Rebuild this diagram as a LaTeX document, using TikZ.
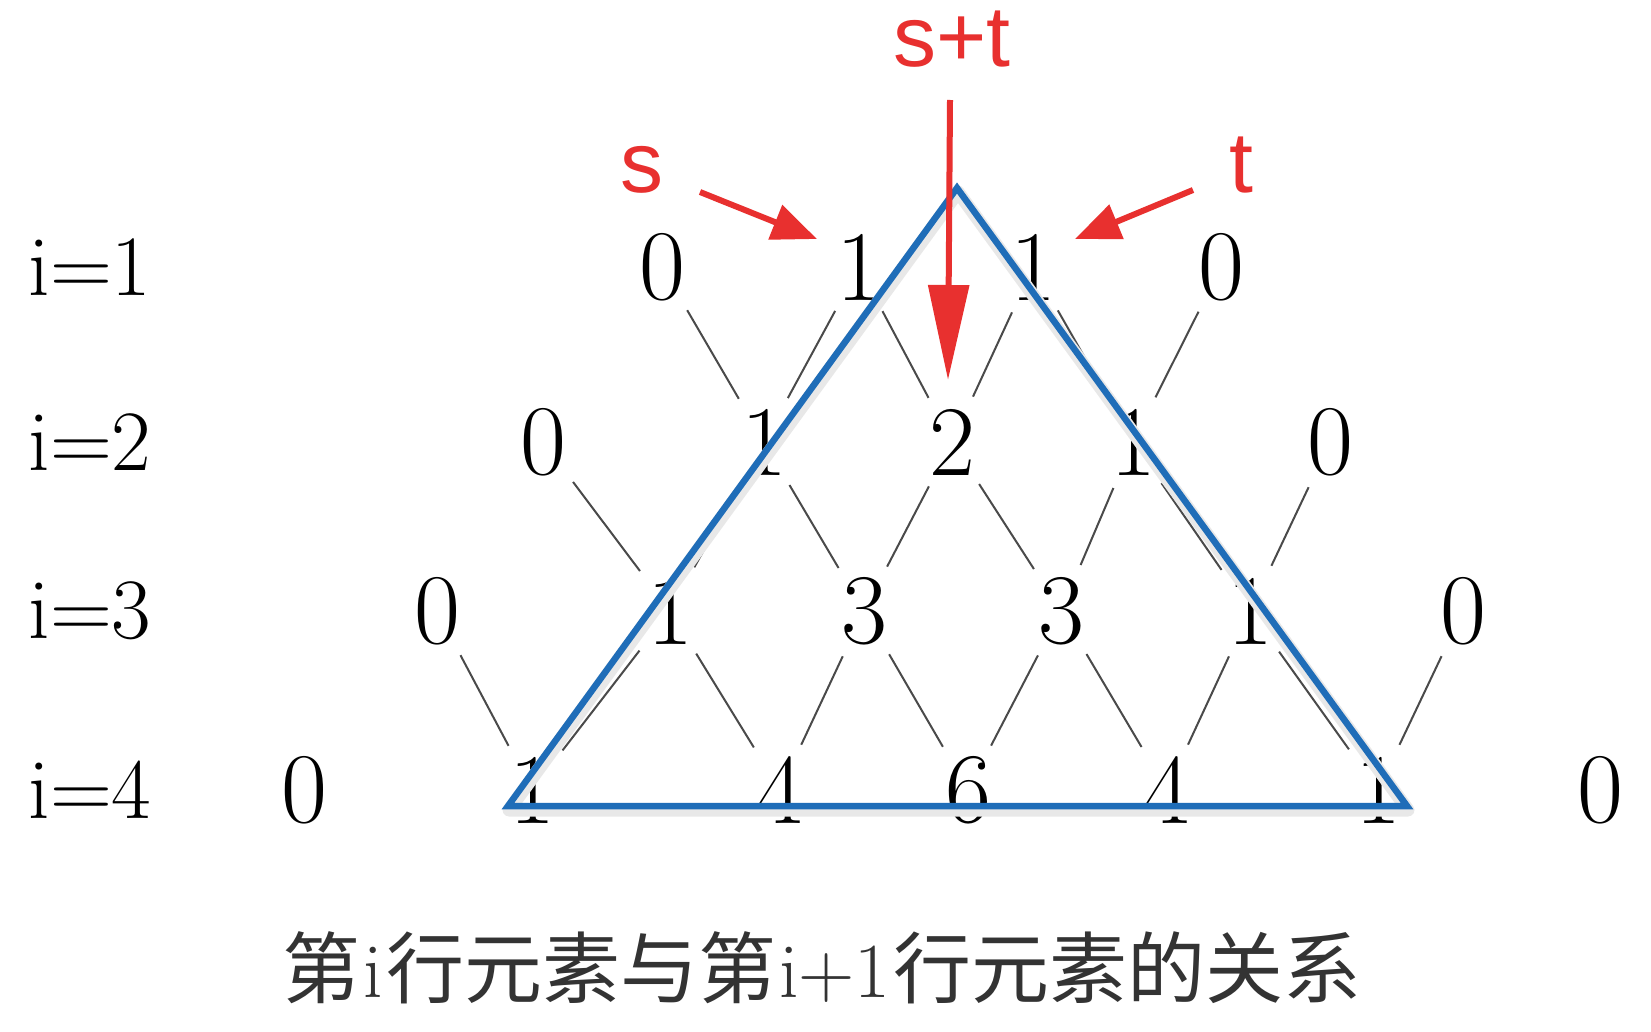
\documentclass[tikz,border=0pt]{standalone}
\usepackage{fontspec}
\newfontfamily\cjkfont{Noto Sans CJK SC}
\newfontfamily\redfont{Liberation Sans}
\usetikzlibrary{arrows.meta}
\definecolor{triblue}{HTML}{1F6DB8}
\definecolor{arrred}{HTML}{E8302F}
\definecolor{linegray}{HTML}{4A4A4A}
\definecolor{captext}{HTML}{333333}
\begin{document}
\begin{tikzpicture}[x=1pt,y=-1pt,
  num/.style={inner sep=0pt, font=\fontsize{100}{100}\selectfont},
  rowlabel/.style={inner sep=0pt, font=\fontsize{86}{86}\selectfont},
  redlabel/.style={inner sep=0pt, anchor=base, text=arrred, font=\redfont\fontsize{86}{86}\selectfont},
  link/.style={draw=linegray, line width=2pt, shorten <=50pt, shorten >=50pt},
  redarrow/.style={draw=arrred, line width=6pt, -{Triangle[length=45pt,width=36pt]}},
  downarrow/.style={draw=arrred, line width=6pt, -{Triangle[length=95pt,width=40pt]}},
  triedge/.style={draw=triblue, line width=6.5pt, line join=miter},
  trishadow/.style={draw=black!9, line width=13pt, line join=round},
  caption/.style={inner sep=0pt, text=captext, font=\fontsize{78}{78}\selectfont}
]
\fill[white] (0,0) rectangle (1651,1032);
\useasboundingbox (0,0) rectangle (1651,1032);

% row labels
\node[rowlabel] (L1) at (90,267) {i=1};
\node[rowlabel] (L2) at (90,442) {i=2};
\node[rowlabel] (L3) at (90,611) {i=3};
\node[rowlabel] (L4) at (90,790) {i=4};

% numbers
\foreach \x/\v [count=\c from 0] in {662/0,859/1,1033/1,1221/0}
  \node[num] (r1c\c) at (\x,267) {\v};
\foreach \x/\v [count=\c from 0] in {543/0,764/1,952/2,1133/1,1330/0}
  \node[num] (r2c\c) at (\x,442) {\v};
\foreach \x/\v [count=\c from 0] in {437/0,670/1,864/3,1061/3,1250/1,1463/0}
  \node[num] (r3c\c) at (\x,611) {\v};
\foreach \x/\v [count=\c from 0] in {304/0,532/1,780/4,968/6,1167/4,1378/1,1600/0}
  \node[num] (r4c\c) at (\x,790) {\v};

% thin links
\foreach \r in {1,2,3}{
  \pgfmathtruncatemacro{\n}{\r+1}
  \pgfmathtruncatemacro{\m}{\r+2}
  \foreach \k in {1,...,\m}{
    \pgfmathtruncatemacro{\p}{\k-1}
    \draw[link] (r\r c\p.center) -- (r\n c\k.center);
    \draw[link] (r\r c\k.center) -- (r\n c\k.center);
  }
}

% blue triangle
\coordinate (apex) at (957,188);
\coordinate (bl) at (508,806);
\coordinate (br) at (1407,806);
\draw[trishadow] ([shift={(1,4)}]apex) -- ([shift={(1,4)}]bl) -- ([shift={(1,4)}]br) -- cycle;
\draw[triedge] (apex) -- (bl) -- (br) -- cycle;

% red labels and arrows
\node[redlabel] (s) at (642,193) {s};
\node[redlabel] (t) at (1241,193) {t};
\node[redlabel] (st) at (952,67) {s+t};
\coordinate (sA) at (700,192);
\coordinate (sB) at (817,239);
\coordinate (tA) at (1193,190);
\coordinate (tB) at (1075,239);
\coordinate (vA) at (950,100);
\coordinate (vB) at (948,380);
\draw[redarrow] (sA) -- (sB);
\draw[redarrow] (tA) -- (tB);
\draw[downarrow] (vA) -- (vB);

% caption
\node[caption] (cap) at (822,968) {{\cjkfont 第}\hspace{3pt}i\hspace{3pt}{\cjkfont 行元素与第}\hspace{3pt}i+1\hspace{3pt}{\cjkfont 行元素的关系}};
\end{tikzpicture}
\end{document}
